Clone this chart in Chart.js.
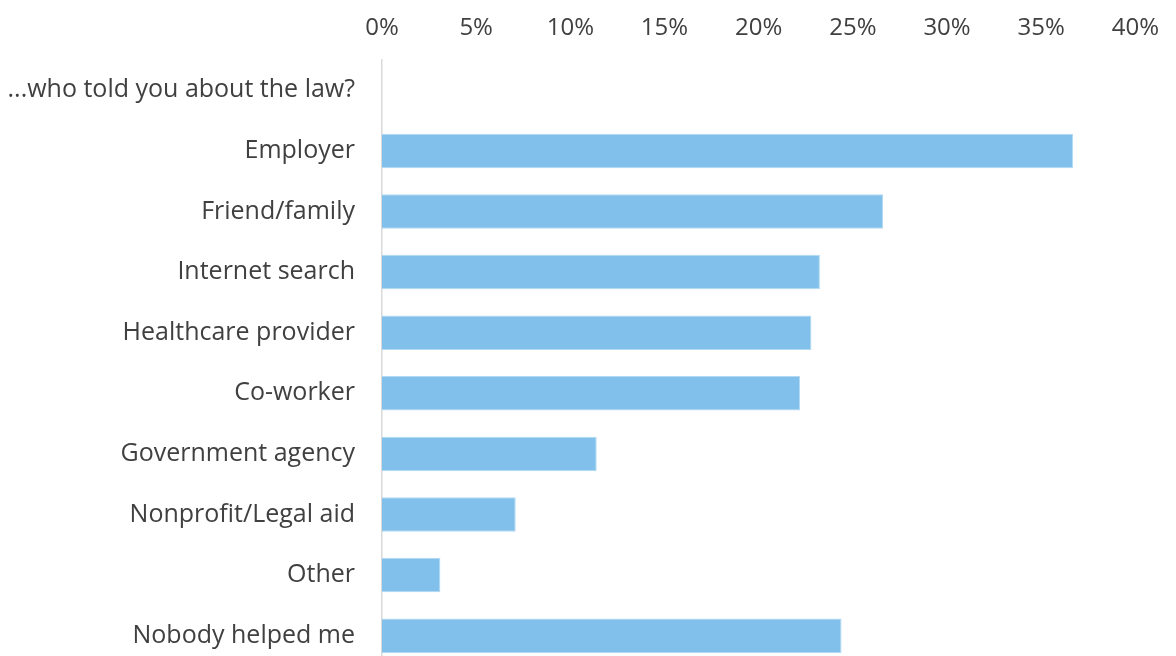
<!DOCTYPE html>
<html>
<head>
<meta charset="utf-8">
<script src="https://cdn.jsdelivr.net/npm/chart.js@4/dist/chart.umd.min.js"></script>
<style>
  html, body { margin: 0; padding: 0; background: #ffffff; overflow: hidden; }
  canvas { display: block; }
</style>
</head>
<body>
<canvas id="chart" width="1176" height="666"></canvas>
<script>
// Survey answers: who told respondents about the law (share of respondents, %)
const categories = [
  '...who told you about the law?',
  'Employer',
  'Friend/family',
  'Internet search',
  'Healthcare provider',
  'Co-worker',
  'Government agency',
  'Nonprofit/Legal aid',
  'Other',
  'Nobody helped me'
];
const shares = [null, 36.7, 26.6, 23.25, 22.8, 22.2, 11.4, 7.1, 3.1, 24.4];
const tickValues = [0, 5, 10, 15, 20, 25, 30, 35, 40];

const FONT = '"Open Sans", Lato, sans-serif';
const TEXT = '#404040';

new Chart(document.getElementById('chart'), {
  type: 'bar',
  data: {
    labels: categories,
    datasets: [{
      data: shares,
      backgroundColor: '#81c0ea',
      borderColor: '#b3d9f3',
      borderWidth: 1,
      borderSkipped: 'start',
      barPercentage: 0.57,
      categoryPercentage: 1
    }]
  },
  options: {
    indexAxis: 'y',
    responsive: false,
    maintainAspectRatio: false,
    animation: false,
    layout: { padding: { left: 0, right: 39, top: 0, bottom: 0 } },
    plugins: { legend: { display: false }, tooltip: { enabled: false } },
    scales: {
      x: {
        position: 'top',
        min: 0,
        max: 40,
        afterBuildTicks: (scale) => { scale.ticks = tickValues.map(v => ({ value: v })); },
        afterFit: (scale) => { scale.height = 60; },
        grid: { display: false, drawTicks: false },
        border: { display: false },
        ticks: {
          padding: 17,
          color: TEXT,
          font: { family: FONT, size: 24 },
          callback: (v) => v + '%'
        }
      },
      y: {
        afterFit: (scale) => {
          scale.width = 382;
          // let the category rows run to the canvas edge
          scale.paddingTop = 0;
          scale.paddingBottom = 0;
        },
        grid: { display: false, drawTicks: false },
        border: { display: true, color: '#d9d9d9', width: 1.5 },
        ticks: {
          padding: 27,
          color: TEXT,
          font: { family: FONT, size: 25 }
        }
      }
    }
  }
});
</script>
</body>
</html>
